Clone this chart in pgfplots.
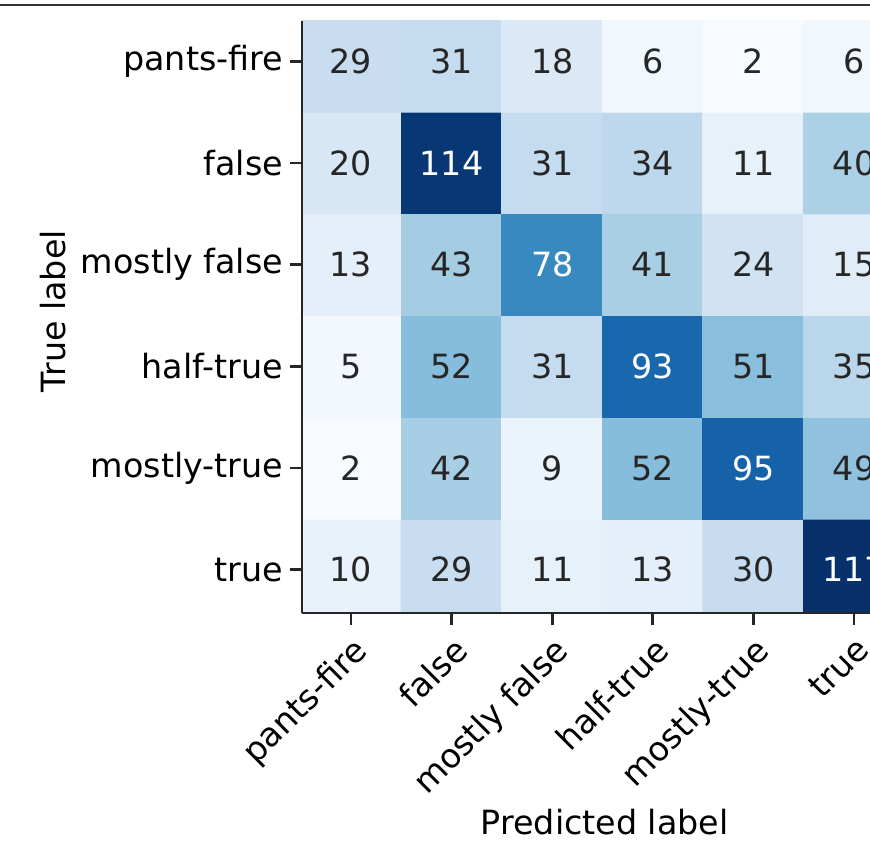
\documentclass[border=0pt]{standalone}
\usepackage{pgfplots}
\pgfplotsset{compat=1.18}
\usepackage{pgfplotstable}
\usepackage{fontspec}
\setmainfont{DejaVu Sans}
\pgfplotstableread{
x y v
0 0 10
1 0 29
2 0 11
3 0 13
4 0 30
5 0 117
0 1 2
1 1 42
2 1 9
3 1 52
4 1 95
5 1 49
0 2 5
1 2 52
2 2 31
3 2 93
4 2 51
5 2 35
0 3 13
1 3 43
2 3 78
3 3 41
4 3 24
5 3 15
0 4 20
1 4 114
2 4 31
3 4 34
4 4 11
5 4 40
0 5 29
1 5 31
2 5 18
3 5 6
4 5 2
5 5 6
}\cm
\begin{document}
\begin{tikzpicture}
\useasboundingbox (0,0) rectangle (261pt,254.7pt);
\clip (0,0) rectangle (261pt,254.7pt);
\draw[line width=0.7pt, black!80] (0,253.1pt) -- (261pt,253.1pt);
\begin{axis}[
  at={(90.6pt,70.8pt)}, anchor=south west,
  scale only axis, width=170.4pt, height=177.6pt,
  xmin=-0.487, xmax=5.159, ymin=-0.425, ymax=5.395,
  axis x line*=bottom, axis y line*=left,
  axis on top,
  axis line style={line width=0.8pt, black!85},
  xtick={0,...,5}, ytick={0,...,5},
  xticklabels={pants-fire,false,mostly false,half-true,mostly-true,true},
  yticklabels={true,mostly-true,half-true,mostly false,false,pants-fire},
  tick align=outside, major tick length=3.5pt,
  tick style={line width=0.8pt, black!85},
  xticklabel style={rotate=45, anchor=north east, inner sep=2pt},
  yticklabel style={inner sep=2pt},
  xlabel={Predicted label}, ylabel={True label},
  xlabel style={at={(axis description cs:0.533,-0.353)}, anchor=center, inner sep=0pt},
  ylabel style={at={(axis description cs:-0.438,0.51)}, anchor=center, inner sep=0pt},
  colormap={mplblues}{rgb255=(247,251,255) rgb255=(222,235,247) rgb255=(198,219,239) rgb255=(158,202,225) rgb255=(107,174,214) rgb255=(66,146,198) rgb255=(33,113,181) rgb255=(8,81,156) rgb255=(8,48,107)},
  point meta min=2, point meta max=117,
]
\addplot[matrix plot*, mesh/cols=6, point meta=explicit] table[x=x,y=y,meta=v]{\cm};
\addplot[draw=none, mark=none, nodes near coords, point meta=explicit symbolic,
  every node near coord/.append style={anchor=center, text=black!85},
  restrict expr to domain={\thisrow{v}}{0:58}] table[x=x,y=y,meta=v]{\cm};
\addplot[draw=none, mark=none, nodes near coords, point meta=explicit symbolic,
  every node near coord/.append style={anchor=center, text=white},
  restrict expr to domain={\thisrow{v}}{59:1000}] table[x=x,y=y,meta=v]{\cm};
\end{axis}
\end{tikzpicture}
\end{document}
